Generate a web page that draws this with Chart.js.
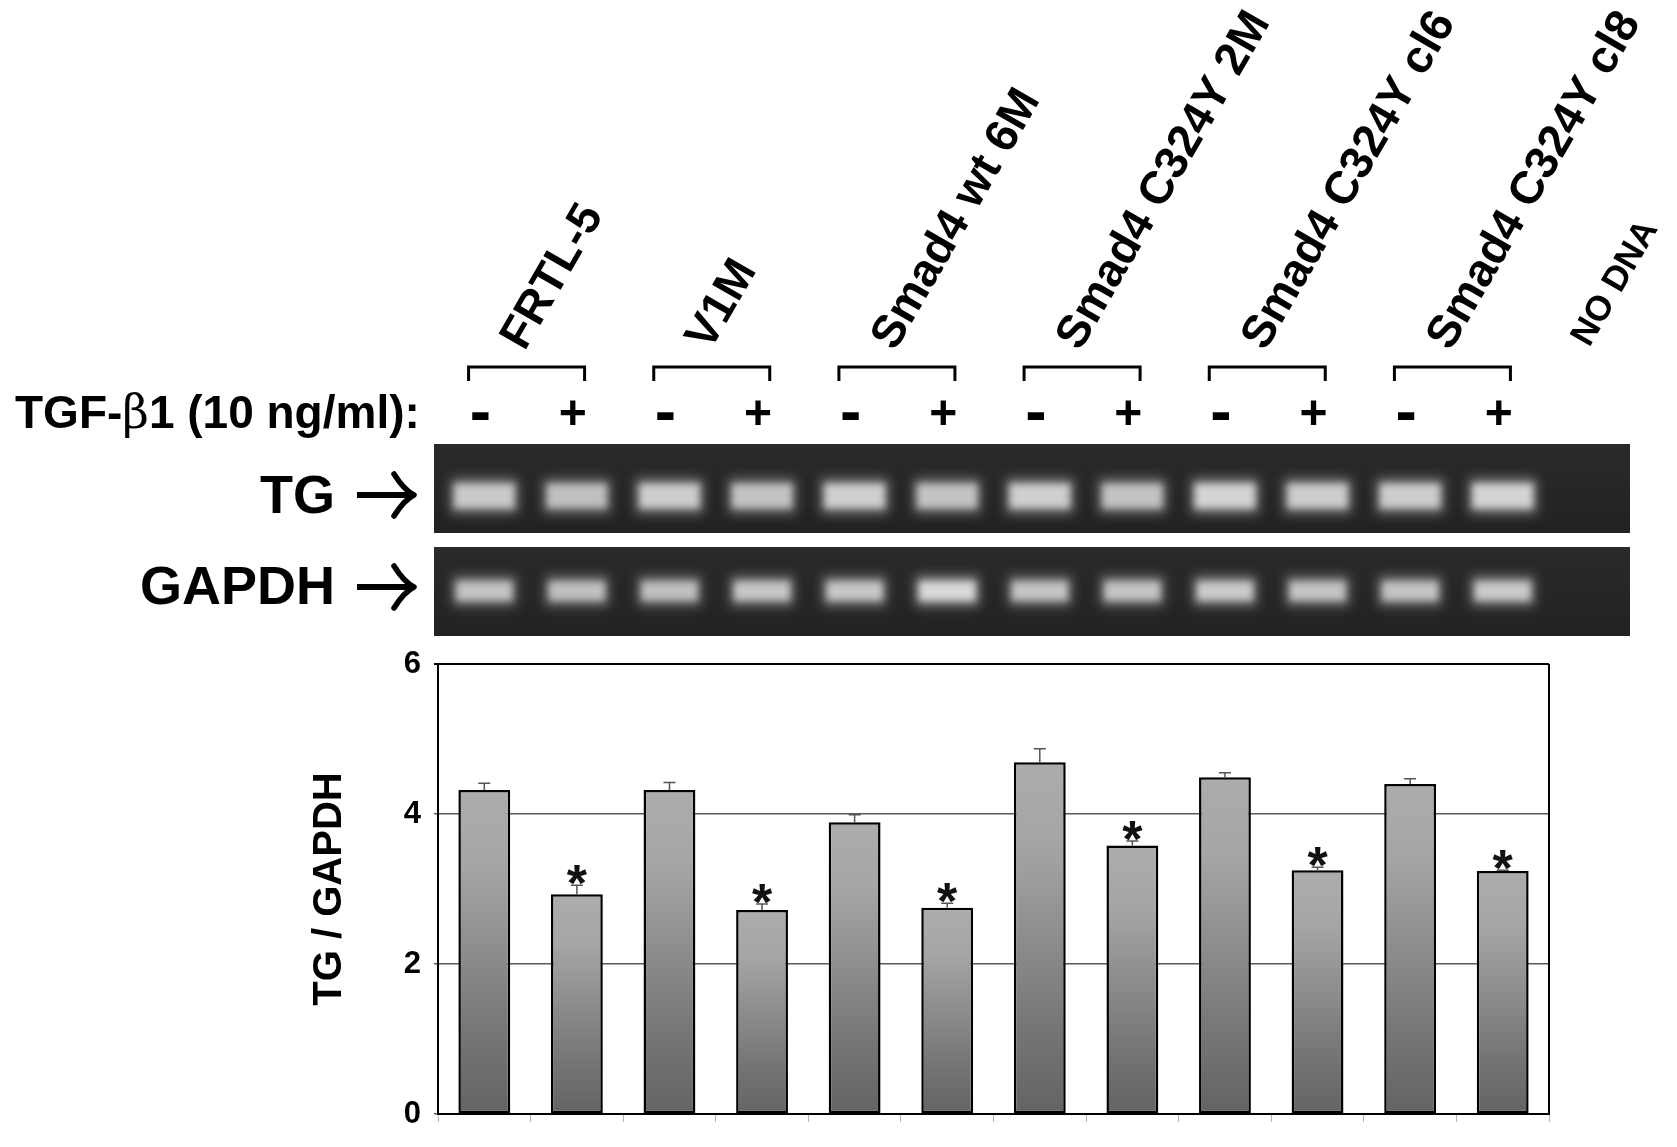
<!DOCTYPE html>
<html>
<head>
<meta charset="utf-8">
<title>TG / GAPDH</title>
<script src="https://cdn.jsdelivr.net/npm/chart.js@4.4.1/dist/chart.umd.min.js"></script>
<style>
  html, body { margin: 0; padding: 0; background: #fff; }
  #wrap { width: 1677px; height: 1147px; position: relative; }
</style>
</head>
<body>
<div id="wrap"><canvas id="tgChart"></canvas></div>
<script>
// data
const groups = ['FRTL-5', 'V1M', 'Smad4 wt 6M', 'Smad4 C324Y 2M', 'Smad4 C324Y cl6', 'Smad4 C324Y cl8'];
const noDnaLabel = 'NO DNA';
const treatment = ['-', '+'];
const categories = groups.flatMap(g => treatment.map(t => g + ' ' + t));
const tgRatio = [4.32, 2.93, 4.32, 2.72, 3.89, 2.75, 4.69, 3.58, 4.49, 3.25, 4.40, 3.24];
const tgRatioErr = [0.09, 0.12, 0.10, 0.08, 0.10, 0.06, 0.18, 0.06, 0.06, 0.04, 0.07, 0.01];
const significant = [false, true, false, true, false, true, false, true, false, true, false, true];
const yTicks = [0, 2, 4, 6];
// band brightness in the gels, one per lane (last lane = NO DNA)
const tgBands = [0.74, 0.68, 0.76, 0.70, 0.78, 0.70, 0.78, 0.70, 0.82, 0.76, 0.76, 0.82, 0];
const gapdhBands = [0.70, 0.68, 0.68, 0.72, 0.72, 0.86, 0.70, 0.70, 0.74, 0.70, 0.70, 0.74, 0];

const FONT = '"Liberation Sans", Arial, sans-serif';
Chart.defaults.font.family = FONT;

function barGradient(context) {
    const chart = context.chart;
    const y = chart.scales.y;
    if (!chart.chartArea || !y) return '#8a8a8a';
    const top = y.getPixelForValue(context.raw);
    const base = y.getPixelForValue(0);
    const g = chart.ctx.createLinearGradient(0, top, 0, base);
    g.addColorStop(0, '#acacac');
    g.addColorStop(0.22, '#a6a6a6');
    g.addColorStop(0.75, '#767676');
    g.addColorStop(1, '#636363');
    return g;
}

function drawArrow(ctx, x0, x1, y) {
    ctx.save();
    ctx.strokeStyle = '#000';
    ctx.lineWidth = 6;
    ctx.lineCap = 'butt';
    ctx.beginPath();
    ctx.moveTo(x0, y);
    ctx.lineTo(x1 - 4, y);
    ctx.stroke();
    ctx.lineWidth = 5.5;
    ctx.lineCap = 'round';
    ctx.lineJoin = 'round';
    ctx.beginPath();
    ctx.moveTo(x1 - 20, y - 21);
    ctx.quadraticCurveTo(x1 - 10, y - 5, x1, y);
    ctx.quadraticCurveTo(x1 - 10, y + 5, x1 - 20, y + 21);
    ctx.stroke();
    ctx.restore();
}

function drawGel(ctx, left, right, top, bottom, lanes, levels, bandW, bandH, bandY) {
    ctx.save();
    const bg = ctx.createLinearGradient(0, top, 0, bottom);
    bg.addColorStop(0, '#2a2a2a');
    bg.addColorStop(1, '#222');
    ctx.fillStyle = bg;
    ctx.fillRect(left, top, right - left, bottom - top);
    ctx.beginPath();
    ctx.rect(left, top, right - left, bottom - top);
    ctx.clip();
    ctx.filter = 'blur(6px)';
    levels.forEach((lv, i) => {
        if (!lv) return;
        ctx.fillStyle = 'rgba(225,225,225,' + (lv * 0.55) + ')';
        ctx.fillRect(lanes[i] - bandW / 2 - 4, top + bandY - bandH / 2 - 6, bandW + 8, bandH + 12);
    });
    ctx.filter = 'blur(3.5px)';
    levels.forEach((lv, i) => {
        if (!lv) return;
        ctx.fillStyle = 'rgba(232,232,232,' + lv + ')';
        ctx.fillRect(lanes[i] - bandW / 2, top + bandY - bandH / 2, bandW, bandH);
    });
    ctx.restore();
}

const headerPlugin = {
    id: 'header',
    afterDraw(chart) {
        const { ctx, chartArea, scales: { x } } = chart;
        const top = chartArea.top;
        const step = x.getPixelForValue(1) - x.getPixelForValue(0);
        const lanes = [];
        for (let i = 0; i <= categories.length; i++) lanes.push(x.getPixelForValue(0) + i * step);
        const angle = -60 * Math.PI / 180;

        ctx.save();
        ctx.fillStyle = '#000';
        ctx.strokeStyle = '#000';

        // group labels + brackets
        groups.forEach((g, k) => {
            const cx = (lanes[2 * k] + lanes[2 * k + 1]) / 2 - 4;
            ctx.save();
            ctx.translate(cx - 2, top - 312);
            ctx.rotate(angle);
            ctx.font = 'bold 46px ' + FONT;
            ctx.textAlign = 'left';
            ctx.textBaseline = 'alphabetic';
            ctx.fillText(g, 0, 0);
            ctx.restore();

            ctx.lineWidth = 3;
            ctx.beginPath();
            ctx.moveTo(cx - 58, top - 283);
            ctx.lineTo(cx - 58, top - 297);
            ctx.lineTo(cx + 58, top - 297);
            ctx.lineTo(cx + 58, top - 283);
            ctx.stroke();
        });
        ctx.save();
        ctx.translate(lanes[12] - 6, top - 316);
        ctx.rotate(angle);
        ctx.font = 'bold 35px ' + FONT;
        ctx.fillText(noDnaLabel, 0, 0);
        ctx.restore();

        // treatment row
        const rowY = top - 236;
        ctx.textBaseline = 'alphabetic';
        ctx.textAlign = 'left';
        let tx = 15;
        const boldF = 'bold 46px ' + FONT;
        ctx.font = boldF;
        ctx.fillText('TGF-', tx, rowY);
        tx += ctx.measureText('TGF-').width;
        ctx.font = '46px "DejaVu Serif", "Liberation Serif", serif';
        ctx.fillText('\u03b2', tx, rowY);
        tx += ctx.measureText('\u03b2').width;
        ctx.font = boldF;
        ctx.fillText('1 (10 ng/ml):', tx, rowY);

        ctx.textAlign = 'center';
        categories.forEach((c, i) => {
            const sx = lanes[i] - 4;
            if (i % 2 === 0) {
                ctx.font = 'bold 64px ' + FONT;
                ctx.fillText(treatment[0], sx, rowY + 5);
            } else {
                ctx.font = 'bold 48px ' + FONT;
                ctx.fillText(treatment[1], sx, rowY + 1);
            }
        });

        // gels
        const gelL = chartArea.left - 4, gelR = chartArea.right + 81;
        drawGel(ctx, gelL, gelR, top - 220, top - 131, lanes, tgBands, 60, 24, 52);
        drawGel(ctx, gelL, gelR, top - 117, top - 28, lanes, gapdhBands, 56, 19, 44);

        ctx.fillStyle = '#000';
        ctx.textAlign = 'right';
        ctx.font = 'bold 54px ' + FONT;
        ctx.fillText('TG', 335, top - 151);
        ctx.fillText('GAPDH', 335, top - 60);
        drawArrow(ctx, 357, 414, top - 169);
        drawArrow(ctx, 357, 414, top - 77);
        ctx.restore();
    }
};

const errorPlugin = {
    id: 'errorBars',
    afterDatasetsDraw(chart) {
        const { ctx, chartArea, scales: { y } } = chart;
        const meta = chart.getDatasetMeta(0);
        ctx.save();
        meta.data.forEach((bar, i) => {
            const yv = y.getPixelForValue(tgRatio[i]);
            const ye = y.getPixelForValue(tgRatio[i] + tgRatioErr[i]);
            ctx.strokeStyle = '#555';
            ctx.lineWidth = 1.5;
            ctx.beginPath();
            ctx.moveTo(bar.x, yv);
            ctx.lineTo(bar.x, ye);
            ctx.moveTo(bar.x - 6, ye);
            ctx.lineTo(bar.x + 6, ye);
            ctx.stroke();
            if (significant[i]) {
                ctx.fillStyle = '#111';
                ctx.font = 'bold 52px ' + FONT;
                ctx.textAlign = 'center';
                ctx.textBaseline = 'alphabetic';
                ctx.fillText('*', bar.x, ye + 16);
            }
        });
        // right frame
        ctx.strokeStyle = '#000';
        ctx.lineWidth = 2;
        ctx.beginPath();
        ctx.moveTo(chartArea.right, chartArea.top);
        ctx.lineTo(chartArea.right, chartArea.bottom);
        ctx.stroke();
        ctx.restore();
    }
};

new Chart(document.getElementById('tgChart'), {
    type: 'bar',
    data: {
        labels: categories,
        datasets: [{
            data: tgRatio,
            backgroundColor: barGradient,
            borderColor: '#000',
            borderWidth: 2.5,
            borderSkipped: false,
            barPercentage: 0.56,
            categoryPercentage: 1
        }]
    },
    options: {
        responsive: true,
        maintainAspectRatio: false,
        animation: false,
        layout: { padding: { top: 664, right: 128, bottom: 21, left: 0 } },
        plugins: {
            legend: { display: false },
            tooltip: { enabled: false }
        },
        scales: {
            x: {
                ticks: { display: false },
                grid: {
                    display: true,
                    drawOnChartArea: false,
                    drawTicks: true,
                    tickLength: 8,
                    color: '#b5b5b5',
                    offset: true
                },
                border: { display: true, color: '#000', width: 2 },
                afterFit(scale) { scale.height = 12; }
            },
            y: {
                min: 0,
                max: 6,
                afterBuildTicks(scale) { scale.ticks = yTicks.map(v => ({ value: v })); },
                ticks: {
                    color: '#000',
                    padding: 13,
                    font: { size: 31, weight: 'bold' }
                },
                grid: {
                    tickLength: 4,
                    color: ctx => (ctx.tick && ctx.tick.value === 6) ? '#000' : '#5a5a5a',
                    lineWidth: ctx => (ctx.tick && ctx.tick.value === 6) ? 2 : 1.5
                },
                border: { display: true, color: '#000', width: 2 },
                title: {
                    display: true,
                    text: 'TG / GAPDH',
                    color: '#000',
                    font: { family: FONT, size: 40, weight: 'bold' },
                    padding: { top: 306, bottom: 0 }
                },
                afterFit(scale) { scale.width = 438; }
            }
        }
    },
    plugins: [headerPlugin, errorPlugin]
});
</script>
</body>
</html>
